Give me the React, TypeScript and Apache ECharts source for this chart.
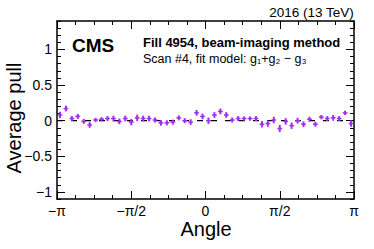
import React, { useEffect, useRef } from "react";
import * as echarts from "echarts";

const NBINS = 50;
const pulls = [
  0.08, 0.17, 0.03, 0.06, -0.01, -0.06, 0.01, 0.02, 0.03, 0.03,
  -0.01, 0.03, -0.02, 0.04, 0.03, 0.03, 0.01, -0.03, -0.03, -0.02,
  0.04, 0.0, -0.02, 0.11, 0.06, 0.0, 0.08, 0.13, 0.08, 0.01,
  0.03, 0.03, 0.03, 0.03, -0.05, -0.04, 0.01, -0.11, -0.01, -0.07,
  0.0, -0.05, 0.02, -0.05, 0.05, 0.03, 0.04, 0.03, 0.11, -0.04,
];
const errors = [
  0.045, 0.04, 0.035, 0.035, 0.035, 0.04, 0.03, 0.03, 0.035, 0.04,
  0.04, 0.04, 0.045, 0.045, 0.04, 0.04, 0.035, 0.04, 0.035, 0.035,
  0.035, 0.035, 0.04, 0.04, 0.04, 0.045, 0.04, 0.04, 0.04, 0.035,
  0.035, 0.03, 0.03, 0.035, 0.045, 0.045, 0.045, 0.05, 0.045, 0.045,
  0.04, 0.04, 0.035, 0.035, 0.03, 0.035, 0.04, 0.035, 0.03, 0.045,
];
const yMajorTicks = [-1, -0.5, 0, 0.5, 1];
const yTickLabels = ["\u22121", "\u22120.5", "0", "0.5", "1"];
const xTickLabels = ["\u2212\u03c0", "\u2212\u03c0/2", "0", "\u03c0/2", "\u03c0"];

const PI = Math.PI;
const binWidth = (2 * PI) / NBINS;
const FONT = "Liberation Sans, Arial, Helvetica, sans-serif";
const PURPLE = "#a22cf0";

export default function App() {
  const ref = useRef<HTMLDivElement>(null);
  useEffect(() => {
    if (!ref.current) return;
    const chart = echarts.init(ref.current, null, { renderer: "svg" });
    const data = pulls.map((v, i) => [-PI + (i + 0.5) * binWidth, v, errors[i]]);

    const xLabel = (v: number) => {
      const k = Math.round(v / (PI / 2)) + 2;
      return xTickLabels[k] ?? "";
    };
    const yLabel = (v: number) => {
      const idx = yMajorTicks.findIndex((t) => Math.abs(t - v) < 1e-6);
      return idx >= 0 ? yTickLabels[idx] : "";
    };

    const baseX = {
      type: "value" as const,
      min: -PI,
      max: PI,
      interval: PI / 2,
      axisLine: { show: true, onZero: false, lineStyle: { color: "#000", width: 1.5 } },
      axisTick: { show: true, inside: true, length: 8, lineStyle: { color: "#000", width: 1 } },
      minorTick: { show: true, splitNumber: 4, length: 4, lineStyle: { color: "#000", width: 1 } },
      splitLine: { show: false },
      minorSplitLine: { show: false },
    };
    const yMinor = {
      type: "value" as const,
      min: -1.1,
      max: 1.4,
      interval: 0.1,
      axisLine: { show: true, onZero: false, lineStyle: { color: "#000", width: 1.5 } },
      axisTick: { show: true, inside: true, length: 4, lineStyle: { color: "#000", width: 1 } },
      axisLabel: { show: false },
      splitLine: { show: false },
    };
    const yMajor = {
      type: "value" as const,
      min: -1.1,
      max: 1.4,
      axisLine: { show: false, onZero: false },
      axisTick: {
        show: true,
        inside: true,
        length: 8,
        customValues: yMajorTicks,
        lineStyle: { color: "#000", width: 1 },
      },
      splitLine: { show: false },
    };

    chart.setOption({
      animation: false,
      grid: { left: 57, right: 20, top: 21, bottom: 50, containLabel: false },
      xAxis: [
        {
          ...baseX,
          position: "bottom",
          axisLabel: {
            show: true,
            formatter: xLabel,
            color: "#000",
            fontFamily: FONT,
            fontSize: 14,
            margin: 5,
            showMinLabel: true,
            showMaxLabel: true,
          },
        },
        { ...baseX, position: "top", axisLabel: { show: false } },
      ],
      yAxis: [
        { ...yMinor, position: "left" },
        {
          ...yMajor,
          position: "left",
          axisLabel: {
            show: true,
            customValues: yMajorTicks,
            formatter: yLabel,
            color: "#000",
            fontFamily: FONT,
            fontSize: 14,
            margin: 5,
          },
        },
        { ...yMinor, position: "right" },
        { ...yMajor, position: "right", axisLabel: { show: false } },
      ],
      series: [
        {
          type: "line",
          xAxisIndex: 0,
          yAxisIndex: 0,
          data: [
            [-PI, 0],
            [PI, 0],
          ],
          symbol: "none",
          lineStyle: { color: "#000", width: 1.2, type: [6, 8] },
          z: 1,
          silent: true,
        },
        {
          type: "custom",
          xAxisIndex: 0,
          yAxisIndex: 0,
          data,
          z: 3,
          renderItem: (params: any, api: any) => {
            const x = api.value(0);
            const y = api.value(1);
            const e = api.value(2);
            const hw = binWidth * 0.4;
            const l = api.coord([x - hw, y]);
            const r = api.coord([x + hw, y]);
            const t = api.coord([x, y + e]);
            const b = api.coord([x, y - e]);
            return {
              type: "group",
              children: [
                {
                  type: "line",
                  shape: { x1: l[0], y1: l[1], x2: r[0], y2: r[1] },
                  style: { stroke: PURPLE, lineWidth: 1.5 },
                },
                {
                  type: "line",
                  shape: { x1: t[0], y1: t[1], x2: b[0], y2: b[1] },
                  style: { stroke: PURPLE, lineWidth: 2 },
                },
              ],
            };
          },
        },
      ],
      graphic: [
        {
          type: "text",
          right: 20,
          top: 5,
          style: { text: "2016 (13 TeV)", font: `13.5px ${FONT}`, fill: "#000" },
        },
        {
          type: "text",
          left: 72,
          top: 36,
          style: { text: "CMS", font: `bold 19px ${FONT}`, fill: "#000" },
        },
        {
          type: "text",
          left: 143,
          top: 36,
          style: { text: "Fill 4954, beam-imaging method", font: `bold 13px ${FONT}`, fill: "#000" },
        },
        {
          type: "text",
          left: 143,
          top: 52,
          style: {
            text: "Scan #4, fit model: g\u2081+g\u2082 \u2212 g\u2083",
            font: `12.5px ${FONT}`,
            fill: "#000",
          },
        },
        {
          type: "text",
          x: 14,
          y: 118,
          rotation: Math.PI / 2,
          style: {
            text: "Average pull",
            font: `20px ${FONT}`,
            fill: "#000",
            align: "center",
            verticalAlign: "middle",
          },
        },
        {
          type: "text",
          x: 206,
          y: 229,
          style: {
            text: "Angle",
            font: `20px ${FONT}`,
            fill: "#000",
            align: "center",
            verticalAlign: "middle",
          },
        },
      ],
    });
    return () => chart.dispose();
  }, []);
  return (
    <div
      ref={ref}
      style={{ position: "fixed", left: 0, top: 0, width: 374, height: 249, background: "#fff" }}
    />
  );
}
